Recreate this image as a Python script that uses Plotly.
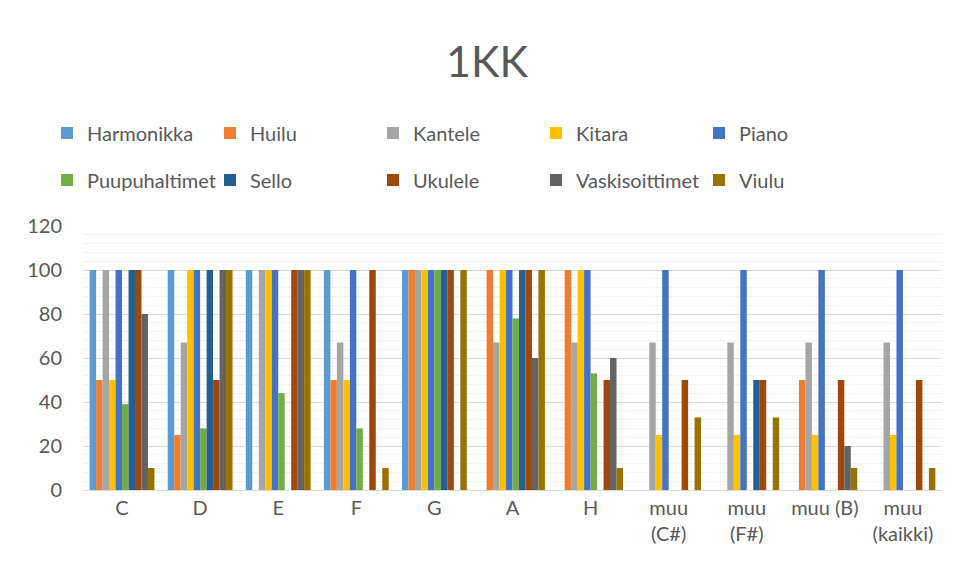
import plotly.graph_objects as go

categories = ["C", "D", "E", "F", "G", "A", "H", "muu<br>(C#)", "muu<br>(F#)", "muu (B)", "muu<br>(kaikki)"]
series_names = ["Harmonikka", "Huilu", "Kantele", "Kitara", "Piano",
                "Puupuhaltimet", "Sello", "Ukulele", "Vaskisoittimet", "Viulu"]
harmonikka    = [100, 100, 100, 100, 100, 0, 0, 0, 0, 0, 0]
huilu         = [50, 25, 0, 50, 100, 100, 100, 0, 0, 50, 0]
kantele       = [100, 67, 100, 67, 100, 67, 67, 67, 67, 67, 67]
kitara        = [50, 100, 100, 50, 100, 100, 100, 25, 25, 25, 25]
piano         = [100, 100, 100, 100, 100, 100, 100, 100, 100, 100, 100]
puupuhaltimet = [39, 28, 44, 28, 100, 78, 53, 0, 0, 0, 0]
sello         = [100, 100, 0, 0, 100, 100, 0, 0, 50, 0, 0]
ukulele       = [100, 50, 100, 100, 100, 100, 50, 50, 50, 50, 50]
vaskisoittimet = [80, 100, 100, 0, 0, 60, 60, 0, 0, 20, 0]
viulu         = [10, 100, 100, 10, 100, 100, 10, 33, 33, 10, 10]

values = [harmonikka, huilu, kantele, kitara, piano,
          puupuhaltimet, sello, ukulele, vaskisoittimet, viulu]
colors = ["#5B9BD5", "#ED7D31", "#A5A5A5", "#FFC000", "#4472C4",
          "#70AD47", "#255E91", "#9E480E", "#636363", "#997300"]

FONT = "Lato"
TXT = "#595959"
OFF = 8  # page body margin offset

fig = go.Figure()
for i, (name, vals, col) in enumerate(zip(series_names, values, colors)):
    fig.add_trace(go.Bar(
        x=categories, y=vals, name=name, marker_color=col,
        marker_line_width=0,
        legend="legend" if i < 5 else "legend2",
    ))

legend_common = dict(
    orientation="h", xref="container", yref="container",
    xanchor="left", yanchor="middle",
    font=dict(family=FONT, size=20, color=TXT),
    entrywidth=118, entrywidthmode="pixels",
    bgcolor="rgba(0,0,0,0)", itemclick=False, itemdoubleclick=False,
    traceorder="normal",
)

fig.update_layout(
    width=955, height=578,
    paper_bgcolor="white", plot_bgcolor="white",
    barmode="group", bargap=0.17, bargroupgap=0,
    margin=dict(l=83 - OFF, r=955 - 942 + OFF, t=226 - OFF, b=88 + OFF, autoexpand=False),
    title=dict(text="1KK", x=(487 - OFF) / 955, xanchor="center", y=1 - (62 - OFF) / 578, yanchor="middle",
               font=dict(family=FONT, size=43, color=TXT)),
    legend=dict(legend_common, x=(47 - OFF) / 955, y=1 - (133 - OFF) / 578),
    legend2=dict(legend_common, x=(47 - OFF) / 955, y=1 - (180 - OFF) / 578),
    font=dict(family=FONT, color=TXT),
)
fig.update_yaxes(
    range=[0, 120], dtick=20, tick0=0,
    showgrid=True, gridcolor="#D9D9D9", gridwidth=1,
    minor=dict(dtick=4, showgrid=True, gridcolor="#F2F2F2", gridwidth=1),
    zeroline=False, showline=False, ticks="",
    ticklabelstandoff=20,
    tickfont=dict(family=FONT, size=20, color=TXT),
)
fig.update_xaxes(
    showline=True, linecolor="#D9D9D9", linewidth=1, ticks="",
    tickfont=dict(family=FONT, size=20, color=TXT),
)
fig.write_html("out.html")
